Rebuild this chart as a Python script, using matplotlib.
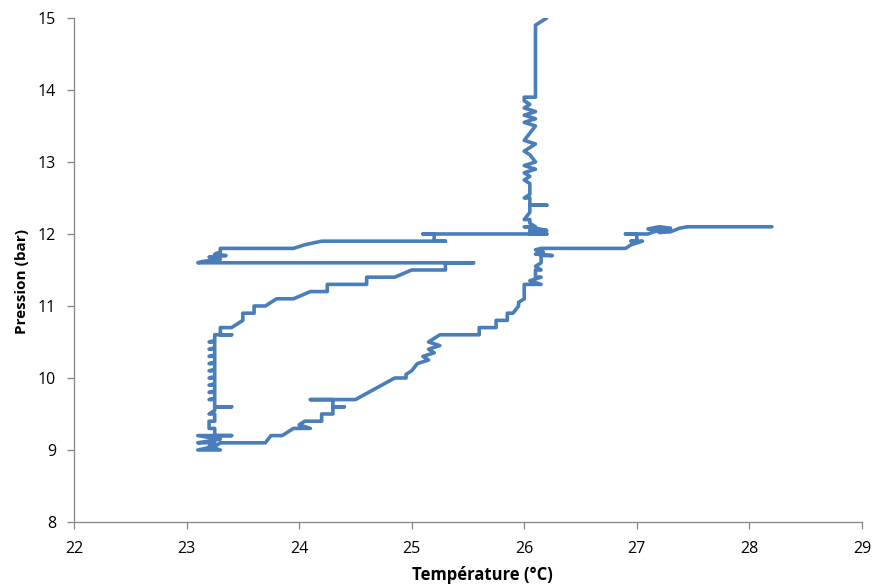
import matplotlib.pyplot as plt

# Temperature (°C) and pressure (bar), in path order
temperature = [
    28.2, 27.45, 27.38, 27.3, 27.2, 27.25, 27.1, 27.2, 27.3, 27.15, 27.1, 26.9, 27.0, 27.0, 26.95, 27.05, 26.95, 26.9,
    26.15, 26.1, 26.17, 26.1, 26.25, 26.15, 26.15, 26.1, 26.15, 26.1, 26.1, 26.15, 26.05, 26.15, 26.0, 26.0,
    25.95, 25.95, 25.9, 25.85, 25.85, 25.75, 25.75, 25.6, 25.6, 25.25, 25.2, 25.15, 25.25, 25.15, 25.2, 25.1,
    25.15, 25.05, 25.0, 24.95, 24.95, 24.85, 24.5, 24.1, 24.3, 24.3, 24.4, 24.3, 24.3, 24.2, 24.2, 24.05, 24.0,
    24.1, 23.95, 23.85, 23.75, 23.7, 23.3,
    23.25, 23.1, 23.3, 23.2, 23.25, 23.1, 23.3, 23.1, 23.4, 23.25, 23.25, 23.2, 23.2, 23.25, 23.25, 23.2, 23.25,
    23.25, 23.4, 23.25, 23.25, 23.2, 23.25, 23.25, 23.2, 23.25, 23.25, 23.2, 23.25, 23.25, 23.2, 23.25, 23.25,
    23.2, 23.25, 23.25, 23.2, 23.25, 23.25, 23.2, 23.25, 23.25, 23.2, 23.25, 23.25, 23.2, 23.25, 23.25, 23.4,
    23.3, 23.3, 23.4, 23.5, 23.5, 23.6, 23.6, 23.7, 23.8, 23.95, 24.1, 24.25, 24.25, 24.6, 24.6, 24.85, 25.0,
    25.3, 25.3, 25.55, 23.1,
    23.15, 23.3, 23.2, 23.35, 23.25, 23.3, 23.3, 23.95, 24.05, 24.2, 24.4, 25.3, 25.2, 25.2, 25.1, 26.2,
    26.05, 26.05, 26.2, 26.1, 26.0, 26.1, 26.05, 26.05, 26.0, 26.05, 26.05, 26.2, 26.05, 26.05, 26.0, 26.05,
    26.05, 26.0, 26.05, 26.0, 26.1, 26.0, 26.1, 26.05, 26.0, 26.05, 26.1, 26.0, 26.05, 26.1, 26.0, 26.1, 26.0,
    26.1, 26.0, 26.05, 26.0, 26.0, 26.1, 26.1, 26.2,
]
pressure = [
    12.1, 12.1, 12.08, 12.03, 12.02, 12.06, 12.07, 12.1, 12.08, 12.03, 12.0, 12.0, 12.0, 11.9, 11.9, 11.9, 11.85, 11.8,
    11.8, 11.78, 11.75, 11.72, 11.7, 11.7, 11.6, 11.55, 11.5, 11.5, 11.4, 11.4, 11.35, 11.3, 11.3, 11.1,
    11.05, 11.0, 10.9, 10.9, 10.8, 10.8, 10.7, 10.7, 10.6, 10.6, 10.55, 10.5, 10.45, 10.4, 10.35, 10.3,
    10.25, 10.2, 10.1, 10.05, 10.0, 10.0, 9.7, 9.7, 9.7, 9.6, 9.6, 9.6, 9.5, 9.5, 9.4, 9.4, 9.35,
    9.3, 9.3, 9.2, 9.2, 9.1, 9.1,
    9.05, 9.0, 9.0, 9.05, 9.1, 9.1, 9.15, 9.2, 9.2, 9.2, 9.3, 9.3, 9.4, 9.4, 9.5, 9.5, 9.55,
    9.6, 9.6, 9.6, 9.7, 9.7, 9.72, 9.8, 9.8, 9.82, 9.9, 9.9, 9.92, 10.0, 10.0, 10.02, 10.1,
    10.1, 10.12, 10.2, 10.2, 10.22, 10.3, 10.3, 10.32, 10.4, 10.4, 10.42, 10.5, 10.5, 10.52, 10.6, 10.6,
    10.6, 10.7, 10.7, 10.8, 10.9, 10.9, 11.0, 11.0, 11.1, 11.1, 11.2, 11.2, 11.3, 11.3, 11.4, 11.4, 11.5,
    11.5, 11.6, 11.6, 11.6,
    11.62, 11.65, 11.68, 11.7, 11.72, 11.75, 11.8, 11.8, 11.85, 11.9, 11.9, 11.9, 11.9, 12.0, 12.0, 12.0,
    12.0, 12.05, 12.05, 12.08, 12.1, 12.1, 12.15, 12.2, 12.2, 12.3, 12.4, 12.4, 12.4, 12.5, 12.5, 12.55,
    12.7, 12.75, 12.8, 12.85, 12.9, 12.95, 13.0, 13.1, 13.15, 13.2, 13.25, 13.3, 13.4, 13.5, 13.55, 13.6, 13.65,
    13.7, 13.75, 13.8, 13.85, 13.9, 13.9, 14.9, 15.0,
]

x_ticks = [22, 23, 24, 25, 26, 27, 28, 29]
y_ticks = [8, 9, 10, 11, 12, 13, 14, 15]

plt.rcParams['font.family'] = ['Open Sans', 'DejaVu Sans']

fig = plt.figure(figsize=(8.75, 5.85), dpi=100)
ax = fig.add_axes([0.0846, 0.1077, 0.9004, 0.8616])

ax.plot(temperature, pressure, color="#4A7EBB", lw=2.6,
        solid_joinstyle="round", solid_capstyle="round")

ax.set_xlim(22, 29)
ax.set_ylim(8, 15)
ax.set_xticks(x_ticks)
ax.set_yticks(y_ticks)

for side in ("top", "right"):
    ax.spines[side].set_visible(False)
for side in ("left", "bottom"):
    ax.spines[side].set_color("#868686")
    ax.spines[side].set_linewidth(0.9)
ax.tick_params(direction="out", length=5, width=0.9, color="#868686",
               labelsize=11.5, labelcolor="#000000")
ax.tick_params(axis="y", pad=8)
ax.tick_params(axis="x", pad=9)

ax.set_xlabel("Température (°C)", fontsize=12, fontweight="bold")
ax.set_ylabel("Pression (bar)", fontsize=11, fontweight="bold")
# Excel puts the titles a bit off the centre of the plot area
ax.xaxis.set_label_coords(0.518, -0.087)
ax.yaxis.set_label_coords(-0.057, 0.478)

fig.savefig("out.png", dpi=100)
